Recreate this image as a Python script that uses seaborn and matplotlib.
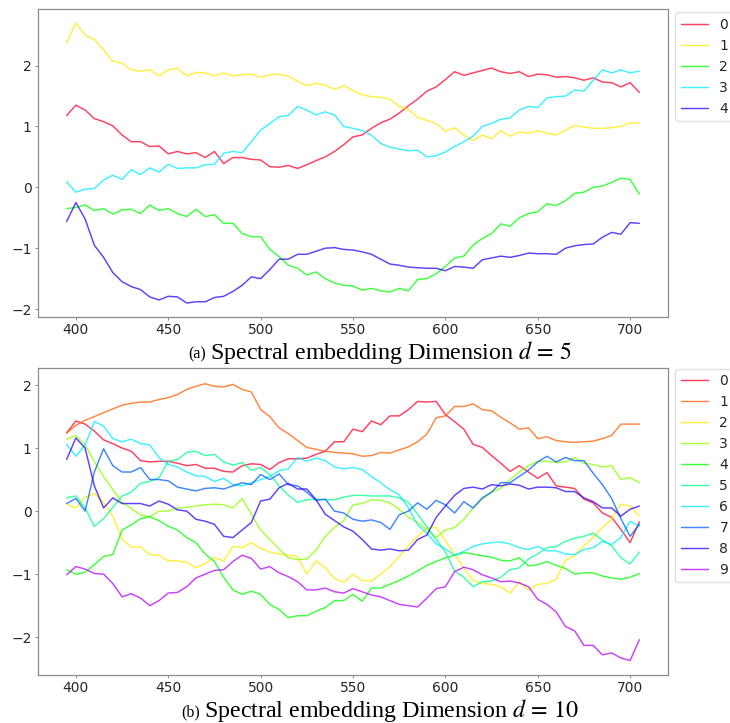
import numpy as np
import pandas as pd
import matplotlib
matplotlib.use("Agg")
import matplotlib.pyplot as plt
import seaborn as sns
from matplotlib.offsetbox import TextArea, HPacker, AnchoredOffsetbox

# ---------------- data ----------------
wavelength = list(range(395, 706, 5))  # 63 samples

# (a) d = 5
top_0 = [1.18, 1.35, 1.27, 1.13, 1.08, 1.01, 0.86, 0.75, 0.75, 0.67,
         0.68, 0.55, 0.59, 0.55, 0.57, 0.49, 0.59, 0.39, 0.49, 0.49,
         0.46, 0.45, 0.34, 0.33, 0.36, 0.31, 0.37, 0.44, 0.50, 0.59,
         0.70, 0.83, 0.86, 0.97, 1.06, 1.12, 1.22, 1.34, 1.45, 1.58,
         1.65, 1.77, 1.90, 1.84, 1.88, 1.92, 1.96, 1.90, 1.87, 1.90,
         1.82, 1.86, 1.85, 1.81, 1.82, 1.80, 1.76, 1.80, 1.73, 1.72,
         1.65, 1.72, 1.56]
top_1 = [2.37, 2.70, 2.50, 2.43, 2.26, 2.07, 2.04, 1.93, 1.91, 1.93,
         1.83, 1.93, 1.96, 1.83, 1.89, 1.88, 1.83, 1.88, 1.83, 1.85,
         1.86, 1.81, 1.85, 1.86, 1.83, 1.74, 1.67, 1.71, 1.68, 1.61,
         1.67, 1.59, 1.52, 1.49, 1.48, 1.45, 1.33, 1.28, 1.15, 1.10,
         1.05, 0.92, 0.98, 0.86, 0.77, 0.86, 0.80, 0.93, 0.84, 0.91,
         0.89, 0.93, 0.89, 0.86, 0.94, 1.02, 0.99, 0.97, 0.97, 0.98,
         1.00, 1.06, 1.06]
top_2 = [-0.35, -0.33, -0.29, -0.38, -0.35, -0.44, -0.37, -0.36, -0.43, -0.29,
         -0.38, -0.35, -0.43, -0.48, -0.36, -0.48, -0.45, -0.59, -0.59, -0.76,
         -0.81, -0.81, -1.02, -1.14, -1.28, -1.33, -1.44, -1.39, -1.50, -1.57,
         -1.61, -1.62, -1.69, -1.66, -1.70, -1.72, -1.66, -1.70, -1.51, -1.50,
         -1.42, -1.30, -1.16, -1.13, -0.95, -0.84, -0.76, -0.60, -0.64, -0.50,
         -0.43, -0.40, -0.27, -0.30, -0.22, -0.10, -0.08, 0.00, 0.02, 0.08,
         0.15, 0.13, -0.11]
top_3 = [0.09, -0.08, -0.03, -0.02, 0.12, 0.20, 0.13, 0.29, 0.21, 0.32,
         0.25, 0.38, 0.31, 0.32, 0.32, 0.37, 0.38, 0.56, 0.59, 0.57,
         0.75, 0.94, 1.05, 1.16, 1.18, 1.33, 1.27, 1.19, 1.24, 1.19,
         1.00, 0.97, 0.93, 0.86, 0.72, 0.66, 0.63, 0.60, 0.61, 0.50,
         0.52, 0.58, 0.67, 0.75, 0.84, 1.00, 1.05, 1.12, 1.14, 1.27,
         1.33, 1.31, 1.47, 1.49, 1.50, 1.60, 1.58, 1.76, 1.93, 1.88,
         1.93, 1.88, 1.91]
top_4 = [-0.56, -0.25, -0.52, -0.95, -1.15, -1.40, -1.55, -1.63, -1.68, -1.80,
         -1.85, -1.79, -1.80, -1.90, -1.88, -1.88, -1.81, -1.79, -1.71, -1.61,
         -1.47, -1.50, -1.35, -1.18, -1.18, -1.10, -1.10, -1.05, -1.00, -0.99,
         -1.02, -1.03, -1.06, -1.10, -1.18, -1.26, -1.28, -1.31, -1.32, -1.33,
         -1.33, -1.37, -1.30, -1.31, -1.33, -1.19, -1.16, -1.13, -1.15, -1.12,
         -1.08, -1.09, -1.09, -1.10, -1.00, -0.96, -0.94, -0.93, -0.82, -0.74,
         -0.77, -0.58, -0.59]

# (b) d = 10
bot_0 = [1.24, 1.43, 1.38, 1.27, 1.13, 1.07, 1.00, 0.95, 0.80, 0.78,
         0.79, 0.79, 0.76, 0.72, 0.74, 0.68, 0.68, 0.63, 0.62, 0.72,
         0.75, 0.74, 0.66, 0.77, 0.83, 0.83, 0.84, 0.90, 0.95, 1.10,
         1.10, 1.30, 1.26, 1.43, 1.37, 1.51, 1.51, 1.61, 1.74, 1.73,
         1.74, 1.53, 1.42, 1.30, 1.06, 1.01, 0.88, 0.76, 0.63, 0.72,
         0.62, 0.52, 0.61, 0.40, 0.38, 0.36, 0.19, 0.13, -0.03, -0.10,
         -0.29, -0.50, -0.17]
bot_1 = [1.24, 1.36, 1.44, 1.50, 1.56, 1.62, 1.68, 1.71, 1.73, 1.73,
         1.77, 1.80, 1.85, 1.93, 1.98, 2.02, 1.98, 1.97, 2.01, 1.93,
         1.89, 1.61, 1.50, 1.32, 1.23, 1.12, 1.01, 0.98, 0.95, 0.93,
         0.92, 0.91, 0.87, 0.88, 0.93, 0.92, 0.97, 1.02, 1.10, 1.22,
         1.48, 1.51, 1.66, 1.66, 1.70, 1.61, 1.59, 1.49, 1.40, 1.30,
         1.32, 1.15, 1.18, 1.12, 1.10, 1.09, 1.10, 1.11, 1.15, 1.20,
         1.38, 1.38, 1.38]
bot_2 = [0.11, 0.05, 0.22, 0.28, 0.14, -0.08, -0.45, -0.57, -0.57, -0.69,
         -0.70, -0.79, -0.79, -0.81, -0.90, -0.83, -0.74, -0.79, -0.56, -0.58,
         -0.50, -0.59, -0.65, -0.68, -0.70, -0.72, -1.00, -0.79, -0.90, -1.07,
         -1.13, -1.00, -1.10, -1.11, -1.00, -0.88, -0.72, -0.55, -0.40, -0.27,
         -0.26, -0.47, -0.69, -0.90, -1.10, -1.15, -1.16, -1.20, -1.30, -1.12,
         -1.25, -1.16, -1.15, -1.08, -0.78, -0.70, -0.55, -0.42, -0.26, -0.13,
         0.11, 0.08, -0.08]
bot_3 = [1.14, 1.20, 1.05, 0.79, 0.55, 0.34, 0.14, 0.04, -0.06, -0.09,
         0.00, 0.00, 0.05, 0.06, 0.08, 0.10, 0.11, 0.10, 0.05, 0.20,
         -0.05, -0.30, -0.45, -0.60, -0.74, -0.77, -0.76, -0.62, -0.40, -0.26,
         -0.15, 0.10, 0.12, 0.18, 0.17, 0.13, 0.03, -0.10, -0.18, -0.30,
         -0.42, -0.30, -0.26, -0.13, 0.05, 0.19, 0.30, 0.36, 0.50, 0.62,
         0.72, 0.79, 0.79, 0.77, 0.78, 0.85, 0.76, 0.74, 0.70, 0.72,
         0.50, 0.53, 0.45]
bot_4 = [-0.93, -1.00, -0.97, -0.85, -0.72, -0.69, -0.30, -0.22, -0.12, -0.09,
         -0.15, -0.24, -0.30, -0.42, -0.50, -0.68, -0.80, -1.05, -1.25, -1.32,
         -1.27, -1.32, -1.48, -1.56, -1.69, -1.66, -1.66, -1.59, -1.53, -1.42,
         -1.42, -1.32, -1.43, -1.22, -1.22, -1.16, -1.10, -1.03, -0.95, -0.86,
         -0.80, -0.74, -0.70, -0.66, -0.68, -0.71, -0.73, -0.78, -0.79, -0.74,
         -0.87, -0.85, -0.80, -0.86, -0.91, -1.00, -0.98, -0.98, -1.03, -1.06,
         -1.08, -1.05, -0.99]
bot_5 = [0.21, 0.24, 0.05, -0.24, -0.12, 0.06, 0.24, 0.30, 0.44, 0.47,
         0.53, 0.79, 0.82, 0.93, 0.95, 0.88, 0.90, 0.78, 0.73, 0.77,
         0.65, 0.69, 0.58, 0.40, 0.25, 0.14, 0.18, 0.19, 0.18, 0.18,
         0.22, 0.25, 0.25, 0.24, 0.24, 0.24, 0.21, 0.14, -0.05, -0.25,
         -0.45, -0.65, -0.95, -1.05, -1.20, -1.12, -1.11, -1.05, -0.93, -0.90,
         -0.76, -0.68, -0.58, -0.56, -0.48, -0.43, -0.40, -0.35, -0.46, -0.55,
         -0.74, -0.84, -0.65]
bot_6 = [1.06, 0.87, 1.05, 1.42, 1.35, 1.15, 1.10, 1.14, 1.07, 1.05,
         0.85, 0.74, 0.70, 0.62, 0.56, 0.55, 0.47, 0.52, 0.42, 0.40,
         0.45, 0.50, 0.55, 0.64, 0.67, 0.85, 0.79, 0.84, 0.80, 0.70,
         0.67, 0.69, 0.66, 0.55, 0.45, 0.34, 0.26, 0.05, -0.22, -0.35,
         -0.52, -0.60, -0.70, -0.64, -0.56, -0.52, -0.50, -0.49, -0.52, -0.58,
         -0.61, -0.56, -0.63, -0.63, -0.68, -0.69, -0.61, -0.58, -0.48, -0.53,
         -0.42, -0.16, -0.24]
bot_7 = [0.12, 0.20, 0.00, 0.62, 0.99, 0.72, 0.62, 0.62, 0.69, 0.50,
         0.50, 0.48, 0.38, 0.35, 0.32, 0.36, 0.37, 0.35, 0.40, 0.45,
         0.42, 0.58, 0.50, 0.59, 0.42, 0.40, 0.30, 0.17, 0.19, 0.00,
         -0.03, -0.13, -0.16, -0.14, -0.18, -0.29, -0.06, 0.00, 0.13, 0.03,
         0.17, 0.10, -0.03, 0.15, 0.05, 0.21, 0.30, 0.45, 0.45, 0.55,
         0.65, 0.78, 0.87, 0.78, 0.85, 0.80, 0.80, 0.60, 0.42, 0.20,
         -0.12, -0.40, -0.21]
bot_8 = [0.82, 1.16, 1.00, 0.40, 0.05, 0.21, 0.12, 0.12, 0.12, 0.08,
         0.16, 0.11, 0.02, 0.00, -0.13, -0.16, -0.21, -0.40, -0.42, -0.30,
         -0.18, 0.16, 0.19, 0.37, 0.44, 0.35, 0.35, 0.18, -0.05, -0.15,
         -0.25, -0.32, -0.45, -0.60, -0.62, -0.60, -0.63, -0.62, -0.45, -0.38,
         -0.10, 0.08, 0.25, 0.36, 0.38, 0.35, 0.42, 0.40, 0.43, 0.41,
         0.35, 0.38, 0.38, 0.37, 0.31, 0.31, 0.21, 0.15, 0.05, 0.05,
         -0.08, 0.03, 0.08]
bot_9 = [-1.01, -0.88, -0.92, -0.99, -1.00, -1.15, -1.36, -1.31, -1.38, -1.50,
         -1.42, -1.30, -1.29, -1.20, -1.06, -1.00, -0.94, -0.93, -0.80, -0.70,
         -0.75, -0.92, -0.88, -0.98, -1.04, -1.12, -1.25, -1.25, -1.22, -1.28,
         -1.30, -1.23, -1.28, -1.33, -1.36, -1.42, -1.48, -1.50, -1.52, -1.38,
         -1.23, -1.20, -0.96, -0.89, -0.93, -1.01, -1.06, -1.12, -1.11, -1.14,
         -1.20, -1.40, -1.48, -1.60, -1.83, -1.90, -2.13, -2.13, -2.28, -2.25,
         -2.33, -2.37, -2.04]

top_series = [top_0, top_1, top_2, top_3, top_4]
bot_series = [bot_0, bot_1, bot_2, bot_3, bot_4, bot_5, bot_6, bot_7, bot_8, bot_9]
x_ticks = [400, 450, 500, 550, 600, 650, 700]
y_ticks = [-2, -1, 0, 1, 2]


def long_frame(series_list):
    rows = []
    for i, vals in enumerate(series_list):
        for xv, yv in zip(wavelength, vals):
            rows.append({"wavelength": xv, "value": yv, "dim": str(i)})
    return pd.DataFrame(rows)


# ---------------- style ----------------
sns.set_style("white", {"axes.edgecolor": "0.55"})
plt.rcParams["font.family"] = ["DejaVu Sans"]
plt.rcParams["mathtext.fontset"] = "stix"

fig = plt.figure(figsize=(7.30, 7.23), dpi=100)
W, H = 730.0, 723.0
ax_top = fig.add_axes([38 / W, 1 - 317 / H, 630 / W, 308 / H])
ax_bot = fig.add_axes([38 / W, 1 - 675 / H, 630 / W, 307 / H])

cmap = matplotlib.colormaps["gist_rainbow"]


def draw(ax, series_list, ylim, anchor_y):
    n = len(series_list)
    labels = [str(i) for i in range(n)]
    colors = [cmap(i / n) for i in range(n)]
    df = long_frame(series_list)
    sns.lineplot(data=df, x="wavelength", y="value", hue="dim",
                 hue_order=labels, palette=colors, ax=ax,
                 linewidth=1.05, alpha=0.75, estimator=None)
    ax.set_xlim(379.5, 720.5)
    ax.set_ylim(*ylim)
    ax.set_xticks(x_ticks)
    ax.set_yticks(y_ticks)
    ax.set_xlabel("")
    ax.set_ylabel("")
    ax.tick_params(axis="both", labelsize=10, colors="0.15",
                   bottom=True, left=True, length=2, width=0.7, pad=2.5)
    ax.tick_params(axis="both", color="0.55")
    for sp in ax.spines.values():
        sp.set_linewidth(0.9)
        sp.set_color("0.55")
    sns.move_legend(ax, "upper left", bbox_to_anchor=(1.0, anchor_y),
                    title=None, frameon=True, fontsize=10)
    leg = ax.get_legend()
    leg.get_frame().set_edgecolor("0.85")
    for line in leg.get_lines():
        line.set_alpha(0.75)
        line.set_linewidth(1.05)


draw(ax_top, top_series, (-2.13, 2.93), 1.012)
draw(ax_bot, bot_series, (-2.60, 2.27), 1.02)


def caption(letter, d, y):
    small = TextArea(f"({letter})",
                     textprops=dict(family="Liberation Serif", size=11.5, color="black"))
    big = TextArea(f"Spectral embedding Dimension $d\\,=\\,{d}$",
                   textprops=dict(family="Liberation Serif", size=17.3, color="black"))
    box = HPacker(children=[small, big], align="baseline", pad=0, sep=3)
    anchored = AnchoredOffsetbox(loc="center", child=box, pad=0, borderpad=0,
                                 frameon=False, bbox_to_anchor=(380 / W, y),
                                 bbox_transform=fig.transFigure)
    fig.add_artist(anchored)


caption("a", 5, 1 - 352 / H)
caption("b", 10, 1 - 710 / H)

fig.savefig("out.png", dpi=100)
